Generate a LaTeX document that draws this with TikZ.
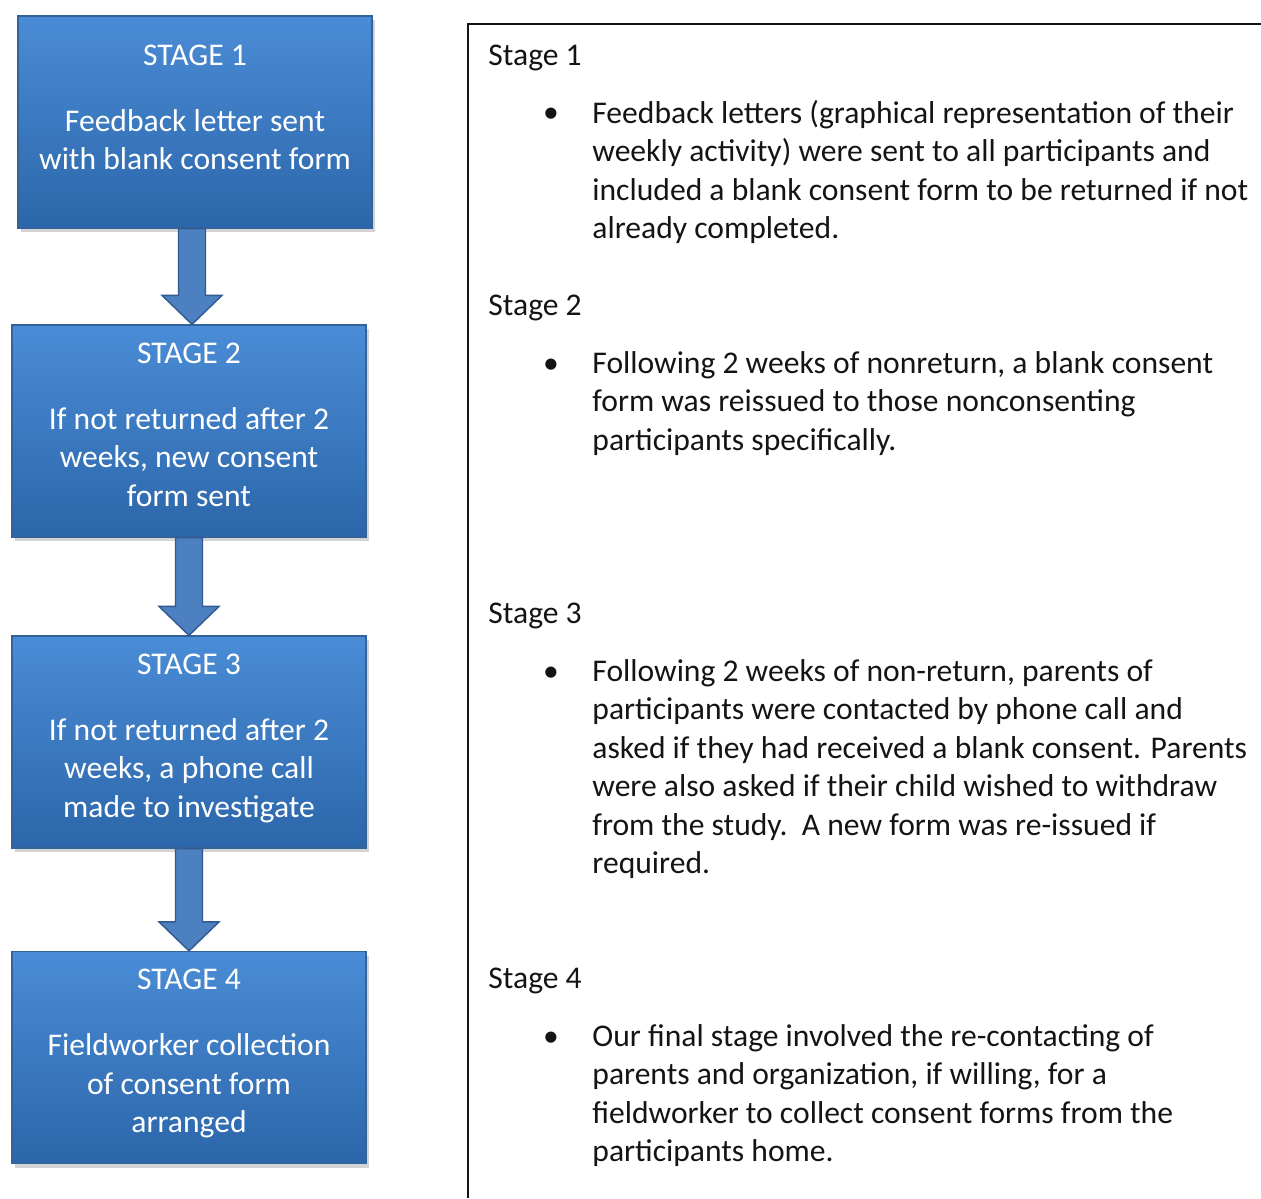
\documentclass[tikz,border=0pt]{standalone}
\usepackage{fontspec}
\setmainfont{Carlito}
\usetikzlibrary{shadows,calc}
\definecolor{stagetop}{RGB}{74,140,214}
\definecolor{stagebot}{RGB}{44,102,170}
\definecolor{stageedge}{RGB}{52,98,155}
\definecolor{arrowfill}{RGB}{76,128,192}
\definecolor{arrowedge}{RGB}{48,90,145}
\definecolor{ink}{RGB}{20,20,20}
\newcommand\bodyfont{\fontsize{15.8}{19.25}\selectfont}
\tikzset{
  stagebox/.style={rectangle,top color=stagetop,bottom color=stagebot,draw=stageedge,
    line width=0.6pt,minimum width=177pt,minimum height=106pt,inner sep=0pt,
    drop shadow={opacity=0.35,shadow xshift=1.5pt,shadow yshift=-2pt}},
  stagetext/.style={anchor=north,inner sep=0pt,align=center,text=white,font=\bodyfont},
  heading/.style={anchor=base west,inner sep=0pt,text=ink,font=\bodyfont},
  dot/.style={anchor=base,inner sep=0pt,text=ink,font=\bodyfont},
  item/.style={anchor=north west,yshift=13.475pt,inner sep=0pt,align=left,text=ink,font=\bodyfont},
  stagearrow/.style={fill=arrowfill,draw=arrowedge,line width=0.7pt,line join=miter},
  panel/.style={draw=ink,line width=0.8pt},
}
% block arrow from the bottom of one box to the top of the next
\newcommand\stagelink[2]{%
  \path[stagearrow] let \p1=(#1.south), \p2=(#2.north), \n1={0.5*\x1+0.5*\x2} in
    (\n1-6.75pt,\y1) -- (\n1-6.75pt,\y2+14.5pt) -- (\n1-15pt,\y2+14.5pt) -- (\n1,\y2)
    -- (\n1+15pt,\y2+14.5pt) -- (\n1+6.75pt,\y2+14.5pt) -- (\n1+6.75pt,\y1) -- cycle;}

\begin{document}
\begin{tikzpicture}[x=0.5pt,y=-0.5pt]
  \useasboundingbox (0,0) rectangle (1261,1198);
  % Stages
  \node[stagebox] (s1) at (195,122) {};
  \node[stagebox] (s2) at (189,431) {};
  \node[stagebox] (s3) at (189,742) {};
  \node[stagebox] (s4) at (189,1057.5) {};
  \node[stagetext,yshift=-11.275pt] (s1t) at (s1.north) {\strut STAGE 1\\[13.75pt]Feedback letter sent\\with blank consent form};
  \node[stagetext,yshift=-5.775pt] (s2t) at (s2.north) {\strut STAGE 2\\[13.75pt]If not returned after 2\\weeks, new consent\\form sent};
  \node[stagetext,yshift=-5.775pt] (s3t) at (s3.north) {\strut STAGE 3\\[13.75pt]If not returned after 2\\weeks, a phone call\\made to investigate};
  \node[stagetext,yshift=-5.775pt] (s4t) at (s4.north) {\strut STAGE 4\\[13.75pt]Fieldworker collection\\of consent form\\arranged};
  \stagelink{s1}{s2}
  \stagelink{s2}{s3}
  \stagelink{s3}{s4}
  % Notes
  \draw[panel] (468,1198) -- (468,24) -- (1261,24);
  \node[heading] (h1) at (488,66) {Stage 1};
  \node[dot] (b1) at (551,123) {\textbullet};
  \node[item] (t1) at (592,123) {\strut Feedback letters (graphical representation of their\\weekly activity) were sent to all participants and\\included a blank consent form to be returned if not\\already completed.};
  \node[heading] (h2) at (488,315) {Stage 2};
  \node[dot] (b2) at (551,373) {\textbullet};
  \node[item] (t2) at (592,373) {\strut Following 2 weeks of nonreturn, a blank consent\\form was reissued to those nonconsenting\\participants specifically.};
  \node[heading] (h3) at (488,623) {Stage 3};
  \node[dot] (b3) at (551,681) {\textbullet};
  \node[item] (t3) at (592,681) {\strut Following 2 weeks of non-return, parents of\\participants were contacted by phone call and\\asked if they had received a blank consent. Parents\\were also asked if their child wished to withdraw\\from the study.\ \ A new form was re-issued if\\required.};
  \node[heading] (h4) at (488,988) {Stage 4};
  \node[dot] (b4) at (551,1046) {\textbullet};
  \node[item] (t4) at (592,1046) {\strut Our final stage involved the re-contacting of\\parents and organization, if willing, for a\\fieldworker to collect consent forms from the\\participants home.};
\end{tikzpicture}
\end{document}
